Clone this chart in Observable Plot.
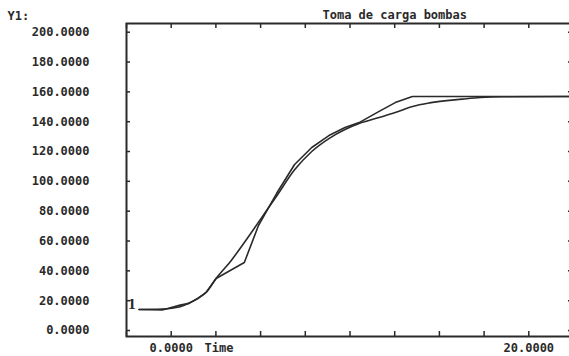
<!DOCTYPE html>
<html>
<head>
<meta charset="utf-8">
<script src="https://cdn.jsdelivr.net/npm/d3@7"></script>
<script src="https://cdn.jsdelivr.net/npm/@observablehq/plot@0.6"></script>
<style>
  html, body { margin: 0; padding: 0; background: #fff; overflow: hidden; }
  #chart { width: 569px; height: 356px; overflow: hidden; }
</style>
</head>
<body>
<div id="chart"></div>
<script>
// Tick values
const xTicks = [-2.5, 0, 2.5, 5, 7.5, 10, 12.5, 15, 17.5, 20, 22.5];
const xLabels = [0, 20];
const yTicks = [0, 20, 40, 60, 80, 100, 120, 140, 160, 180, 200];

// Series 1: smooth response
const timeS  = [-1.8, -0.5, 0.5, 1.0, 1.5, 1.95, 2.51, 3.36, 4.09, 4.65, 5.0, 5.9, 6.9, 7.86, 8.82, 9.72, 10.51, 11.63, 12.53, 13.5, 14.45, 16.3, 17.3, 18.5, 22.5];
const valueS = [14.1, 14.4, 15.9, 18.4, 21.7, 25.5, 34.9, 47.0, 59.0, 68.6, 74.7, 90.2, 107.7, 120.0, 128.7, 134.8, 138.8, 142.8, 146.1, 150.2, 152.6, 155.1, 156.2, 156.7, 156.9];

// Series 2: piecewise response
const timeP  = [-1.8, -0.5, 0.5, 1.0, 1.5, 1.95, 2.51, 4.09, 4.88, 5.9, 6.9, 7.86, 8.82, 9.72, 10.51, 11.63, 12.53, 13.49, 22.5];
const valueP = [14.1, 13.8, 17.0, 18.2, 21.5, 25.5, 34.9, 45.6, 70.4, 92.0, 111.3, 122.7, 130.7, 136.1, 139.4, 146.9, 152.8, 156.9, 156.9];

const seriesS = timeS.map((t, i) => ({t, v: valueS[i]}));
const seriesP = timeP.map((t, i) => ({t, v: valueP[i]}));

const ink = "#2a2a2a";
const W = 573, H = 356, mL = 126, mR = 0, mT = 23, mB = 20;
const innerW = W - mL - mR, innerH = H - mT - mB;
const font = "DejaVu Sans Mono";

const chart = Plot.plot({
  width: W,
  height: H,
  marginLeft: mL,
  marginRight: mR,
  marginTop: mT,
  marginBottom: mB,
  x: {domain: [-2.5, 22.5]},
  y: {domain: [0, 200], range: [330, 31.7]},
  style: {background: "white", maxWidth: "none", fontFamily: font, color: ink},
  marks: [
    Plot.tickX(xTicks, {x: d => d, insetTop: innerH - 5, stroke: ink, strokeWidth: 1.5}),
    Plot.tickX(xTicks, {x: d => d, insetBottom: innerH - 5, stroke: ink, strokeWidth: 1.5}),
    Plot.tickY(yTicks, {y: d => d, insetRight: innerW - 4, stroke: ink, strokeWidth: 1.5}),
    Plot.tickY(yTicks, {y: d => d, insetLeft: innerW - 5, stroke: ink, strokeWidth: 1.5}),
    Plot.frame({stroke: ink, strokeWidth: 2}),
    Plot.axisY(yTicks, {
      tickSize: 0, tickPadding: 37,
      tickFormat: d => d.toFixed(4),
      fontSize: 12, fontWeight: "bold", fill: ink, label: null
    }),
    Plot.axisX(xLabels, {
      tickSize: 0, tickPadding: 7,
      tickFormat: d => d.toFixed(4),
      fontSize: 12, fontWeight: "bold", fill: ink, label: null
    }),
    Plot.line(seriesS, {x: "t", y: "v", curve: "monotone-x", stroke: ink, strokeWidth: 1.6}),
    Plot.line(seriesP, {x: "t", y: "v", curve: "linear", stroke: ink, strokeWidth: 1.6}),
    Plot.text([seriesS[0]], {x: "t", y: "v", text: () => "1", dx: -7, dy: -4,
      fontFamily: "DejaVu Serif", fontSize: 12, fontWeight: "bold", fill: ink}),
    Plot.text(["Toma de carga bombas"], {frameAnchor: "top-left", dx: 196, dy: -8,
      textAnchor: "start", lineAnchor: "middle", fontSize: 12, fontWeight: "bold", fill: ink}),
    Plot.text(["Y1:"], {frameAnchor: "top-left", dx: -119, dy: -7,
      textAnchor: "start", lineAnchor: "middle", fontSize: 12, fontWeight: "bold", fill: ink}),
    Plot.text(["Time"], {frameAnchor: "bottom-left", dx: 78, dy: 12,
      textAnchor: "start", lineAnchor: "middle", fontSize: 12, fontWeight: "bold", fill: ink})
  ]
});
document.getElementById("chart").appendChild(chart);
</script>
</body>
</html>
